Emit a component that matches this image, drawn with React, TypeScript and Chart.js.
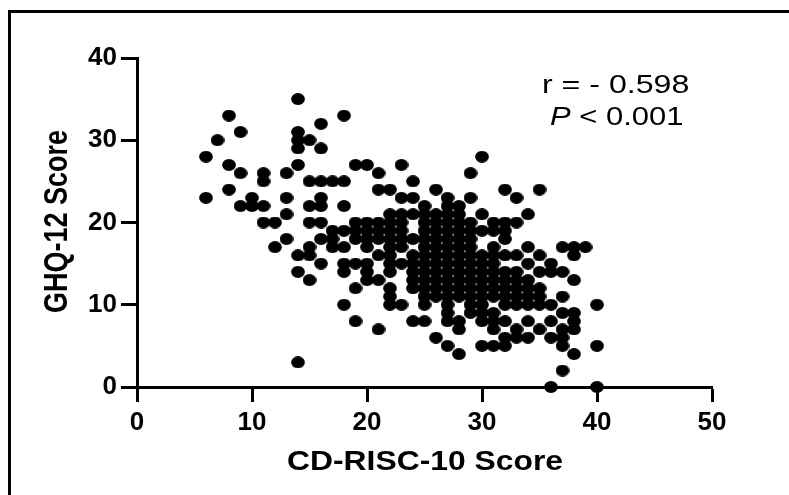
import React, { useEffect, useRef } from "react";
import { Chart, registerables } from "chart.js";

Chart.register(...registerables);

const cdRiscScores = [6, 7, 8, 9, 10, 11, 12, 13, 14, 15, 16, 17, 18, 19, 20, 21, 22, 23, 24, 25, 26, 27, 28, 29, 30, 31, 32, 33, 34, 35, 36, 37, 38, 39, 40];
const ghqScoresByColumn = [
  [28, 23],
  [30],
  [33, 27, 24],
  [31, 26, 22],
  [23, 22],
  [26, 25, 22, 20],
  [20, 17],
  [26, 23, 21, 18],
  [35, 31, 30, 29, 27, 16, 14, 3],
  [30, 25, 22, 20, 17, 16, 13],
  [32, 29, 25, 23, 22, 20, 18, 15],
  [25, 19, 18, 17],
  [33, 25, 22, 19, 17, 15, 14, 10],
  [27, 20, 19, 18, 15, 12, 8],
  [27, 20, 19, 18, 17, 15, 14, 13],
  [26, 24, 20, 19, 18, 16, 13, 7],
  [24, 21, 20, 19, 18, 17, 16, 15, 14, 12, 11, 10],
  [27, 23, 21, 20, 19, 18, 17, 15, 10],
  [25, 23, 21, 18, 16, 15, 14, 13, 12, 8],
  [22, 21, 20, 19, 18, 17, 16, 15, 14, 13, 12, 11, 10, 8],
  [24, 21, 20, 19, 18, 17, 16, 15, 14, 13, 12, 11, 6],
  [23, 22, 21, 20, 19, 18, 17, 16, 15, 14, 13, 12, 11, 10, 9, 8, 5],
  [22, 21, 20, 19, 18, 17, 16, 15, 14, 13, 12, 11, 8, 7, 4],
  [26, 23, 20, 19, 18, 17, 16, 15, 14, 13, 12, 11, 10, 9],
  [28, 21, 19, 16, 15, 14, 13, 12, 11, 10, 9, 8, 5],
  [20, 19, 17, 16, 15, 14, 13, 12, 11, 9, 8, 7, 5],
  [24, 20, 19, 18, 16, 14, 13, 12, 11, 10, 8, 6, 5],
  [23, 20, 16, 14, 13, 12, 11, 10, 7, 6],
  [21, 17, 15, 13, 12, 11, 10, 8, 6],
  [24, 16, 14, 12, 11, 10, 7],
  [15, 14, 10, 8, 6, 0],
  [17, 14, 11, 9, 7, 6, 5, 2],
  [17, 16, 13, 9, 8, 7, 4],
  [17],
  [10, 5, 0],
];
const xTicks = [0, 10, 20, 30, 40, 50];
const yTicks = [0, 10, 20, 30, 40];
const xTitle = "CD-RISC-10 Score";
const yTitle = "GHQ-12 Score";
const corrText = "r = - 0.598";
const pItalic = "P";
const pRest = " < 0.001";

const FONT = '"Liberation Sans", Arial, sans-serif';

function stretched(ctx: any, text: string, x: number, y: number, sx: number) {
  ctx.save();
  ctx.translate(x, y);
  ctx.scale(sx, 1);
  ctx.fillText(text, 0, 0);
  ctx.restore();
}

const annotate = {
  id: "annotate",
  afterDraw(chart: any) {
    const { ctx, width, height } = chart;
    ctx.save();
    ctx.fillStyle = "#000";
    ctx.fillRect(8, 10, width - 8, 3);
    ctx.fillRect(8, 10, 3, height - 10);
    ctx.textBaseline = "alphabetic";
    ctx.textAlign = "left";

    ctx.font = `25px ${FONT}`;
    stretched(ctx, corrText, 542, 93, 1.285);
    ctx.font = `italic 25px ${FONT}`;
    const pw = ctx.measureText(pItalic).width * 1.24;
    stretched(ctx, pItalic, 550, 125, 1.24);
    ctx.font = `25px ${FONT}`;
    stretched(ctx, pRest, 550 + pw, 125, 1.24);

    ctx.font = `bold 28px ${FONT}`;
    stretched(ctx, xTitle, 287, 470, 1.137);

    ctx.save();
    ctx.translate(67, 313);
    ctx.rotate(-Math.PI / 2);
    ctx.scale(1, 1.2);
    ctx.font = `bold 27px ${FONT}`;
    ctx.fillText(yTitle, 0, 0);
    ctx.restore();
    ctx.restore();
  },
};

function ovalMarker() {
  const c = document.createElement("canvas");
  c.width = 14;
  c.height = 12;
  const g = c.getContext("2d")!;
  g.fillStyle = "#000";
  g.beginPath();
  g.ellipse(7, 6, 6.9, 5.9, 0, 0, Math.PI * 2);
  g.fill();
  return c;
}

export default function App() {
  const ref = useRef<HTMLCanvasElement>(null);
  useEffect(() => {
    document.body.style.margin = "0";
    const points = cdRiscScores.flatMap((x, i) => ghqScoresByColumn[i].map((y) => ({ x, y })));
    const chart = new Chart(ref.current!, {
      type: "scatter",
      data: {
        datasets: [
          {
            data: points,
            pointStyle: ovalMarker(),
            clip: false,
          } as any,
        ],
      },
      options: {
        animation: false,
        responsive: false,
        devicePixelRatio: 1,
        layout: { padding: { left: 0, right: 77, top: 58, bottom: 0 } },
        plugins: { legend: { display: false }, tooltip: { enabled: false } },
        scales: {
          x: {
            type: "linear",
            min: 0,
            max: 50,
            afterBuildTicks: (a: any) => { a.ticks = xTicks.map((value) => ({ value })); },
            afterFit: (a: any) => { a.height = 108; },
            grid: { display: true, drawOnChartArea: false, drawTicks: true, tickLength: 15, tickWidth: 3, tickColor: "#000" } as any,
            border: { display: true, color: "#000", width: 3 },
            ticks: { color: "#000", font: { family: FONT, size: 26, weight: "bold" }, padding: 5, maxRotation: 0, autoSkip: false },
          },
          y: {
            type: "linear",
            min: 0,
            max: 40,
            afterBuildTicks: (a: any) => { a.ticks = yTicks.map((value) => ({ value })); },
            afterFit: (a: any) => { a.width = 137; },
            grid: { display: true, drawOnChartArea: false, drawTicks: true, tickLength: 16, tickWidth: 3, tickColor: "#000" } as any,
            border: { display: true, color: "#000", width: 3 },
            ticks: { color: "#000", font: { family: FONT, size: 26, weight: "bold" }, padding: 4, autoSkip: false },
          },
        },
      },
      plugins: [annotate],
    });
    return () => chart.destroy();
  }, []);
  return <canvas ref={ref} width={789} height={495} style={{ display: "block" }} />;
}
